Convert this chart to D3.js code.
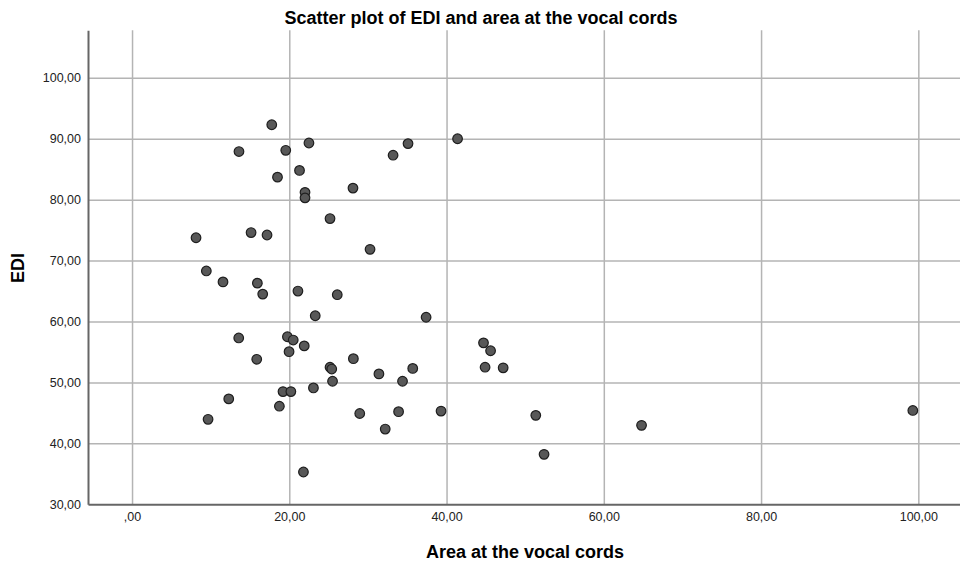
<!DOCTYPE html>
<html>
<head>
<meta charset="utf-8">
<script src="https://d3js.org/d3.v7.min.js"></script>
<style>
  body { margin: 0; background: #fff; }
  svg { font-family: "Liberation Sans", Arial, sans-serif; }
</style>
</head>
<body>
<script>
// area at the vocal cords (x) and EDI (y)
let area = [17.77, 13.6, 19.55, 22.5, 18.5, 21.3, 22.0, 22.0, 35.1, 33.2,
            41.4, 28.1, 8.14, 15.14, 17.17, 9.45, 11.57, 15.94, 16.62, 21.1,
            23.3, 13.57, 19.76, 20.5, 21.9, 19.97, 15.86, 25.18, 30.27, 26.1,
            37.4, 28.15, 25.18, 25.4, 31.4, 35.7, 44.7, 45.6, 44.9, 47.2,
            23.07, 25.5, 34.4, 28.96, 33.9, 32.2, 39.3, 51.35, 52.4, 64.8,
            21.8, 99.3, 9.67, 12.3, 18.74, 19.2, 20.2];
let edi = [92.3, 87.9, 88.1, 89.3, 83.7, 84.8, 81.2, 80.3, 89.2, 87.3,
           90.0, 81.9, 73.75, 74.6, 74.2, 68.3, 66.5, 66.3, 64.5, 65.0,
           60.95, 57.3, 57.5, 56.96, 56.0, 55.05, 53.8, 76.9, 71.85, 64.4,
           60.7, 53.9, 52.5, 52.2, 51.4, 52.3, 56.5, 55.2, 52.5, 52.4,
           49.1, 50.2, 50.2, 44.9, 45.2, 42.35, 45.3, 44.6, 38.2, 42.96,
           35.3, 45.4, 43.95, 47.3, 46.1, 48.5, 48.5];
let xTicks = [0, 20, 40, 60, 80, 100];
let yTicks = [30, 40, 50, 60, 70, 80, 90, 100];

function main() {
    let svg = d3.select("body").append("svg")
        .attr("width", 960)
        .attr("height", 565);

    let left = 88, right = 960, top = 30.3, bottom = 504.3;

    let xScale = d3.scaleLinear().domain([-5.6, 105.3]).range([left, right]);
    let yScale = d3.scaleLinear().domain([30, 107.8]).range([bottom, top]);

    let fmt = d => d === 0 ? ",00" : d3.format(".2f")(d).replace(".", ",");

    // grid
    svg.append("g")
        .attr("transform", `translate(0,${bottom})`)
        .call(d3.axisBottom(xScale).tickValues(xTicks).tickSize(-(bottom - top)).tickFormat(""))
        .call(g => g.select(".domain").remove())
        .selectAll("line").attr("stroke", "#b4b4b4").attr("stroke-width", 1.5);

    svg.append("g")
        .attr("transform", `translate(${left},0)`)
        .call(d3.axisLeft(yScale).tickValues(yTicks.filter(d => d > 30)).tickSize(-(right - left)).tickFormat(""))
        .call(g => g.select(".domain").remove())
        .selectAll("line").attr("stroke", "#b4b4b4").attr("stroke-width", 1.5);

    // axes
    let xAxis = svg.append("g")
        .attr("transform", `translate(0,${bottom})`)
        .call(d3.axisBottom(xScale).tickValues(xTicks).tickSize(0).tickPadding(8).tickFormat(fmt));
    xAxis.select(".domain").attr("stroke", "#666").attr("stroke-width", 2);
    xAxis.selectAll("text").style("font-size", "12.5px").attr("fill", "#222");

    let yAxis = svg.append("g")
        .attr("transform", `translate(${left},0)`)
        .call(d3.axisLeft(yScale).tickValues(yTicks).tickSize(0).tickPadding(7).tickFormat(fmt));
    yAxis.select(".domain").attr("stroke", "#666").attr("stroke-width", 2);
    yAxis.selectAll("text").style("font-size", "12.5px").attr("fill", "#222");

    // points
    svg.append("g").selectAll("circle")
        .data(area)
        .enter()
        .append("circle")
        .attr("cx", d => xScale(d))
        .attr("cy", (d, i) => yScale(edi[i]))
        .attr("r", 4.8)
        .attr("fill", "#585858")
        .attr("stroke", "#1e1e1e")
        .attr("stroke-width", 1.2);

    // titles
    svg.append("text")
        .attr("x", 481)
        .attr("y", 24)
        .attr("text-anchor", "middle")
        .style("font-size", "18px")
        .style("font-weight", "bold")
        .text("Scatter plot of EDI and area at the vocal cords");

    svg.append("text")
        .attr("x", 525)
        .attr("y", 558)
        .attr("text-anchor", "middle")
        .style("font-size", "18px")
        .style("font-weight", "bold")
        .text("Area at the vocal cords");

    svg.append("text")
        .attr("transform", "translate(24, 268) rotate(-90)")
        .attr("text-anchor", "middle")
        .style("font-size", "18px")
        .style("font-weight", "bold")
        .text("EDI");
}

main()
</script>
</body>
</html>
